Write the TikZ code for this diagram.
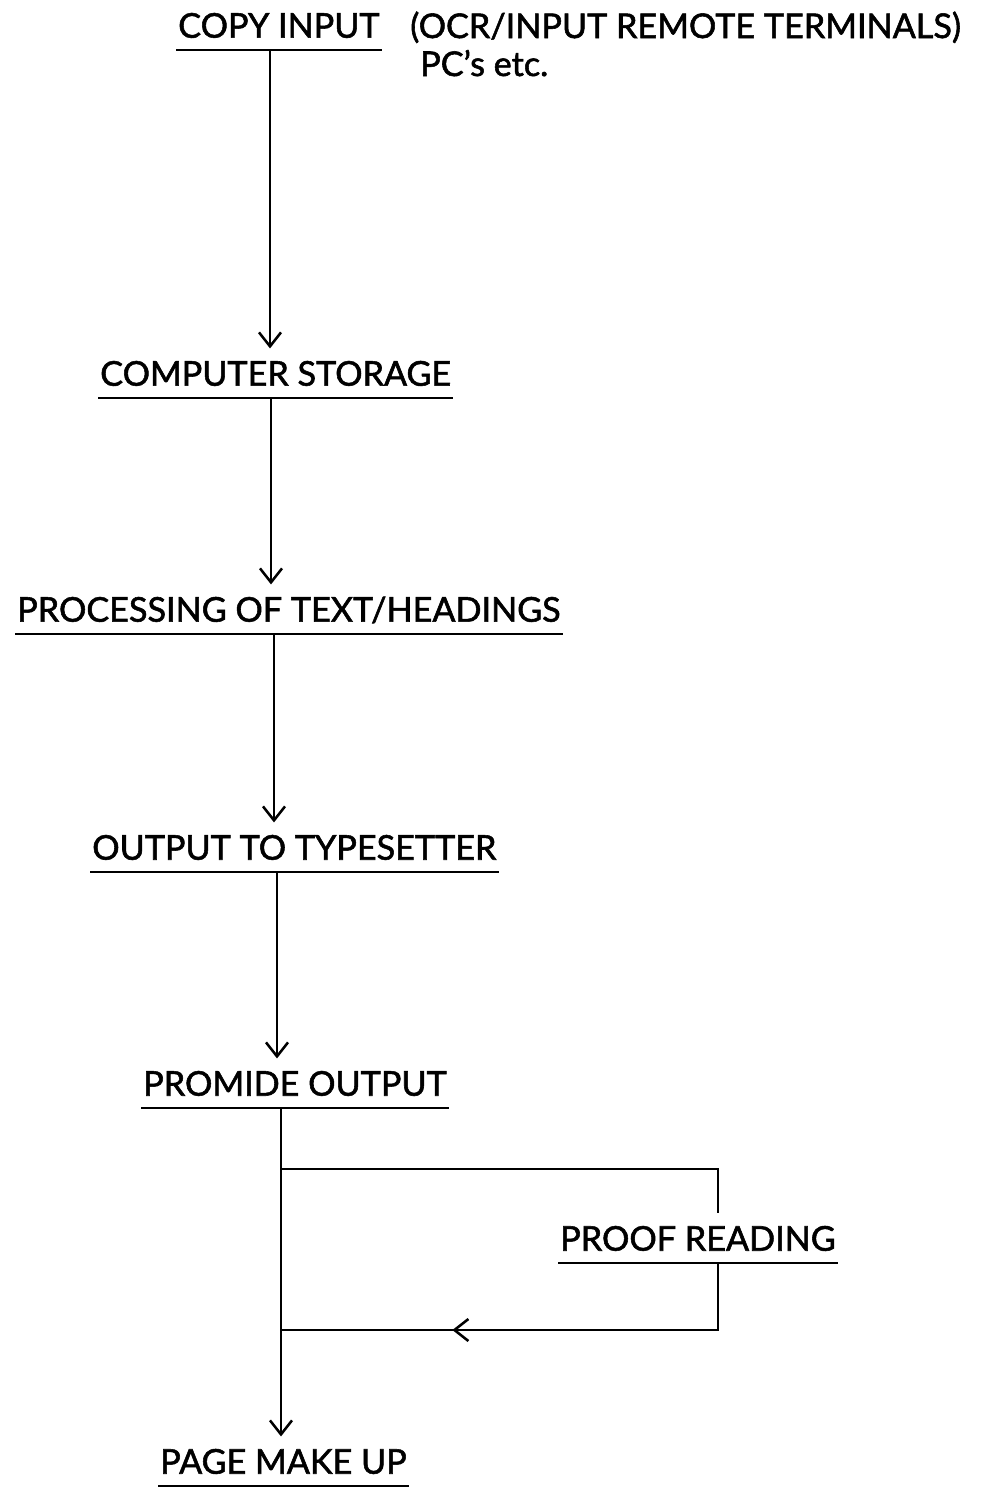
\documentclass[tikz,border=0pt]{standalone}
\usepackage{fontspec}
\setmainfont{Lato}[FakeBold=1.6]
\usetikzlibrary{arrows.meta,decorations.markings}

\tikzset{
    stage/.style={anchor=south west, inner xsep=0.05cm, inner ysep=0.3cm,
        text height=0.625cm, text depth=0pt, font=\fontsize{24.3}{28}\selectfont},
    flow/.style={line width=1.8pt,
        -{Straight Barb[length=0.35cm,width=0.55cm]}},
    rule/.style={line width=1.6pt},
    backflow/.style={line width=1.8pt, postaction={decorate},
        decoration={markings,
            mark=at position 0.66 with {\arrow{Straight Barb[length=0.35cm,width=0.55cm]}}}},
}

\begin{document}
\begin{tikzpicture}[x=0.025cm, y=-0.025cm]
    \useasboundingbox (0, 0) rectangle (998, 1487);

    % stages, placed by the left end of their underline
    \node[stage] (copy) at (176, 50) {COPY INPUT};
    \node[anchor=base west, align=left, inner sep=0,
        font=\fontsize{24.3}{27}\selectfont] (remark) at (410, 76)
        {(OCR/INPUT REMOTE TERMINALS)\\\hspace*{0.25cm}PC’s etc.};
    \node[stage] (store) at (98, 398) {COMPUTER STORAGE};
    \node[stage] (proc) at (15, 634) {PROCESSING OF TEXT/HEADINGS};
    \node[stage] (out) at (90, 872) {OUTPUT TO TYPESETTER};
    \node[stage] (prom) at (141, 1108) {PROMIDE OUTPUT};
    \node[stage] (proof) at (558, 1263) {PROOF READING};
    \node[stage] (page) at (158, 1486) {PAGE MAKE UP};

    \foreach \n in {copy, store, proc, out, prom, proof, page} {
        \draw[rule] (\n.south west) -- (\n.south east);
    }

    % the main line drifts a little to the right
    \coordinate (x1) at (270, 0);
    \coordinate (x2) at (271, 0);
    \coordinate (x3) at (274, 0);
    \coordinate (x4) at (277, 0);
    \coordinate (x5) at (281, 0);
    \draw[flow] (copy.south -| x1) -- (store.north -| x1);
    \draw[flow] (store.south -| x2) -- (proc.north -| x2);
    \draw[flow] (proc.south -| x3) -- (out.north -| x3);
    \draw[flow] (out.south -| x4) -- (prom.north -| x4);
    \draw[flow] (prom.south -| x5) -- (page.north -| x5);

    % proof reading loop
    \coordinate (split) at (281, 1169);
    \coordinate (merge) at (281, 1330);
    \coordinate (rx) at (718, 0);
    \draw[line width=1.8pt] (split) -- (split -| rx) -- (proof.north -| rx);
    \draw[backflow] (proof.south -| rx) -- (merge -| rx) -- (merge);
\end{tikzpicture}
\end{document}
